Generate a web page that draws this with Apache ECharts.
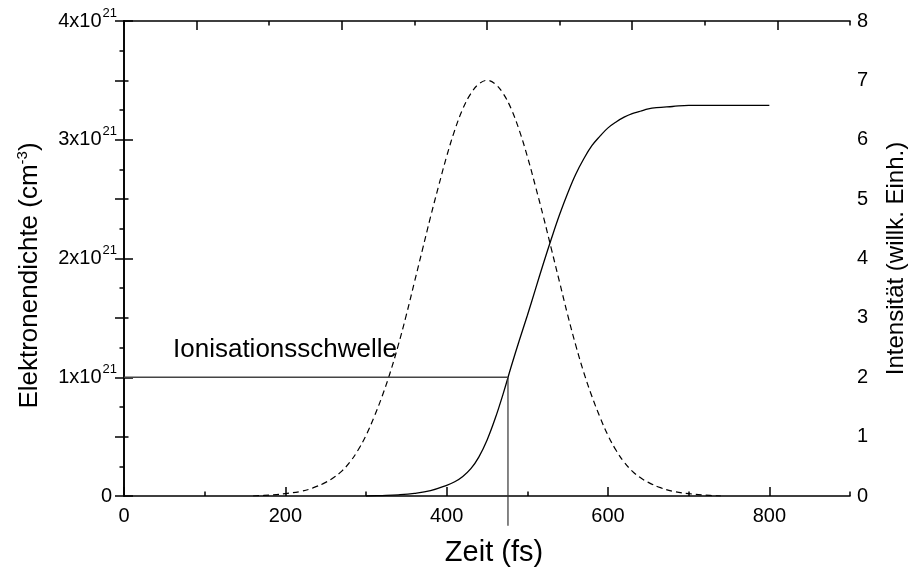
<!DOCTYPE html>
<html>
<head>
<meta charset="utf-8">
<script src="https://cdn.jsdelivr.net/npm/echarts@6/dist/echarts.min.js"></script>
<style>html,body{margin:0;padding:0;background:#fff}#c{width:916px;height:577px}</style>
</head>
<body>
<div id="c"></div>
<script>
// Electron density (units of 1e21 cm^-3), left axis
const densityTime = [300, 320, 340, 360, 380, 400, 410, 420, 430, 440, 450, 460, 470, 480, 490, 500, 510, 520, 530, 540, 550, 560, 570, 580, 590, 600, 610, 620, 630, 640, 650, 660, 680, 700, 750, 800];
const densityVal  = [0.0, 0.004, 0.01, 0.022, 0.045, 0.09, 0.12, 0.165, 0.23, 0.33, 0.47, 0.65, 0.86, 1.09, 1.31, 1.52, 1.74, 1.96, 2.17, 2.37, 2.55, 2.71, 2.84, 2.95, 3.03, 3.10, 3.15, 3.19, 3.22, 3.24, 3.26, 3.27, 3.28, 3.29, 3.29, 3.29];
// Pulse intensity (arb. units), right axis
const pulseTime = [160, 180, 200, 220, 235, 250, 260, 270, 280, 290, 300, 310, 320, 330, 340, 350, 360, 370, 380, 390, 400, 410, 420, 430, 440, 450, 460, 470, 480, 490, 500, 510, 520, 530, 540, 550, 560, 570, 580, 590, 600, 610, 620, 630, 640, 650, 665, 680, 700, 720, 740];
const pulseVal  = [0.0, 0.015, 0.04, 0.08, 0.14, 0.23, 0.31, 0.42, 0.57, 0.77, 1.02, 1.33, 1.68, 2.08, 2.54, 3.05, 3.60, 4.15, 4.70, 5.22, 5.72, 6.16, 6.52, 6.78, 6.94, 7.0, 6.94, 6.78, 6.52, 6.16, 5.72, 5.22, 4.70, 4.15, 3.60, 3.05, 2.54, 2.08, 1.68, 1.33, 1.02, 0.77, 0.57, 0.42, 0.31, 0.23, 0.14, 0.08, 0.04, 0.015, 0.0];
// Ionisation threshold
const thresholdTime = 476;
const thresholdDensity = 1;
const thresholdDrop = -0.25;
const thresholdLabel = 'Ionisationsschwelle';
// Axis tick labels
const xTicks = [0, 200, 400, 600, 800];
const leftTicks = [0, 1, 2, 3, 4];
const rightTicks = [0, 1, 2, 3, 4, 5, 6, 7, 8];

const FONT = "'Liberation Sans', Arial, sans-serif";
const chart = echarts.init(document.getElementById('c'));
const axLine = { show: true, lineStyle: { color: '#000', width: 1.6 } };
const tickStyle = { color: '#000', width: 1.5 };

chart.setOption({
  animation: false,
  backgroundColor: '#fff',
  grid: { left: 124, right: 64, top: 21, bottom: 81, containLabel: false },
  xAxis: [
    { type: 'value', position: 'bottom', min: 0, max: 900, interval: 200,
      axisLine: axLine, splitLine: { show: false },
      axisTick: { inside: true, length: 9, lineStyle: tickStyle },
      axisLabel: { fontSize: 20, color: '#000', fontFamily: FONT, margin: 10, showMaxLabel: false,
        formatter: v => xTicks.includes(v) ? String(v) : '' },
      name: 'Zeit (fs)', nameLocation: 'middle', nameGap: 42,
      nameTextStyle: { fontSize: 29, color: '#000', fontFamily: FONT, padding: [0, 0, 0, 14] } },
    { type: 'value', position: 'bottom', min: 0, max: 900, interval: 100,
      axisLine: { show: false }, splitLine: { show: false },
      axisTick: { inside: true, length: 4.5, lineStyle: tickStyle },
      axisLabel: { show: false } },
    { type: 'value', position: 'top', min: 0, max: 5, interval: 1,
      axisLine: axLine, splitLine: { show: false },
      axisTick: { inside: true, length: 4.5, lineStyle: tickStyle },
      minorTick: { show: true, splitNumber: 2, length: 9, lineStyle: tickStyle },
      axisLabel: { show: false } }
  ],
  yAxis: [
    { type: 'value', position: 'left', min: 0, max: 4, interval: 1,
      axisLine: axLine, splitLine: { show: false },
      axisTick: { inside: true, length: 9, lineStyle: tickStyle },
      minorTick: { show: true, splitNumber: 2, length: 4.5, lineStyle: tickStyle },
      axisLabel: { color: '#000', fontFamily: FONT, fontSize: 20, margin: 7,
        formatter: v => !leftTicks.includes(v) ? '' : (v === 0 ? '{z|0}' : v + 'x10{sup|21}'),
        rich: {
          sup: { fontSize: 13, fontFamily: FONT, color: '#000', padding: [0, 0, 16, 1] },
          z: { fontSize: 20, fontFamily: FONT, color: '#000', padding: [0, 5, 0, 0] }
        } },
      name: 'Elektronendichte (cm{sup|-3})', nameLocation: 'middle', nameGap: 80, nameRotate: 90,
      nameTextStyle: { fontSize: 26, color: '#000', fontFamily: FONT, padding: [0, 34, 0, 0],
        rich: { sup: { fontSize: 15, fontFamily: FONT, color: '#000', padding: [0, 0, 14, 0] } } } },
    { type: 'value', position: 'right', min: 0, max: 8, interval: 1,
      axisLine: axLine, splitLine: { show: false },
      axisTick: { inside: true, length: 9, lineStyle: tickStyle },
      minorTick: { show: true, splitNumber: 2, length: 4.5, lineStyle: tickStyle },
      axisLabel: { color: '#000', fontFamily: FONT, fontSize: 20, margin: 7,
        formatter: v => rightTicks.includes(v) ? String(v) : '' },
      name: 'Intensität (willk. Einh.)', nameLocation: 'middle', nameGap: 34, nameRotate: 90,
      nameTextStyle: { fontSize: 24, color: '#000', fontFamily: FONT } }
  ],
  series: [
    { type: 'line', xAxisIndex: 0, yAxisIndex: 1, showSymbol: false, smooth: 0.4,
      data: pulseTime.map((t, i) => [t, pulseVal[i]]),
      lineStyle: { color: '#000', width: 1.2, type: [6, 4] } },
    { type: 'line', xAxisIndex: 0, yAxisIndex: 0, showSymbol: false, smooth: 0.4,
      data: densityTime.map((t, i) => [t, densityVal[i]]),
      lineStyle: { color: '#000', width: 1.3 } },
    { type: 'line', xAxisIndex: 0, yAxisIndex: 0, showSymbol: false,
      data: [[0, thresholdDensity], [thresholdTime, thresholdDensity]],
      lineStyle: { color: '#444', width: 1.3 } },
    { type: 'line', xAxisIndex: 0, yAxisIndex: 0, showSymbol: false, clip: false,
      data: [[thresholdTime, thresholdDensity], [thresholdTime, thresholdDrop]],
      lineStyle: { color: '#333', width: 1.2 } }
  ],
  graphic: [
    { type: 'text', left: 173, top: 337,
      style: { text: thresholdLabel, fontSize: 26, fontFamily: FONT, fill: '#000' } }
  ]
});
</script>
</body>
</html>
